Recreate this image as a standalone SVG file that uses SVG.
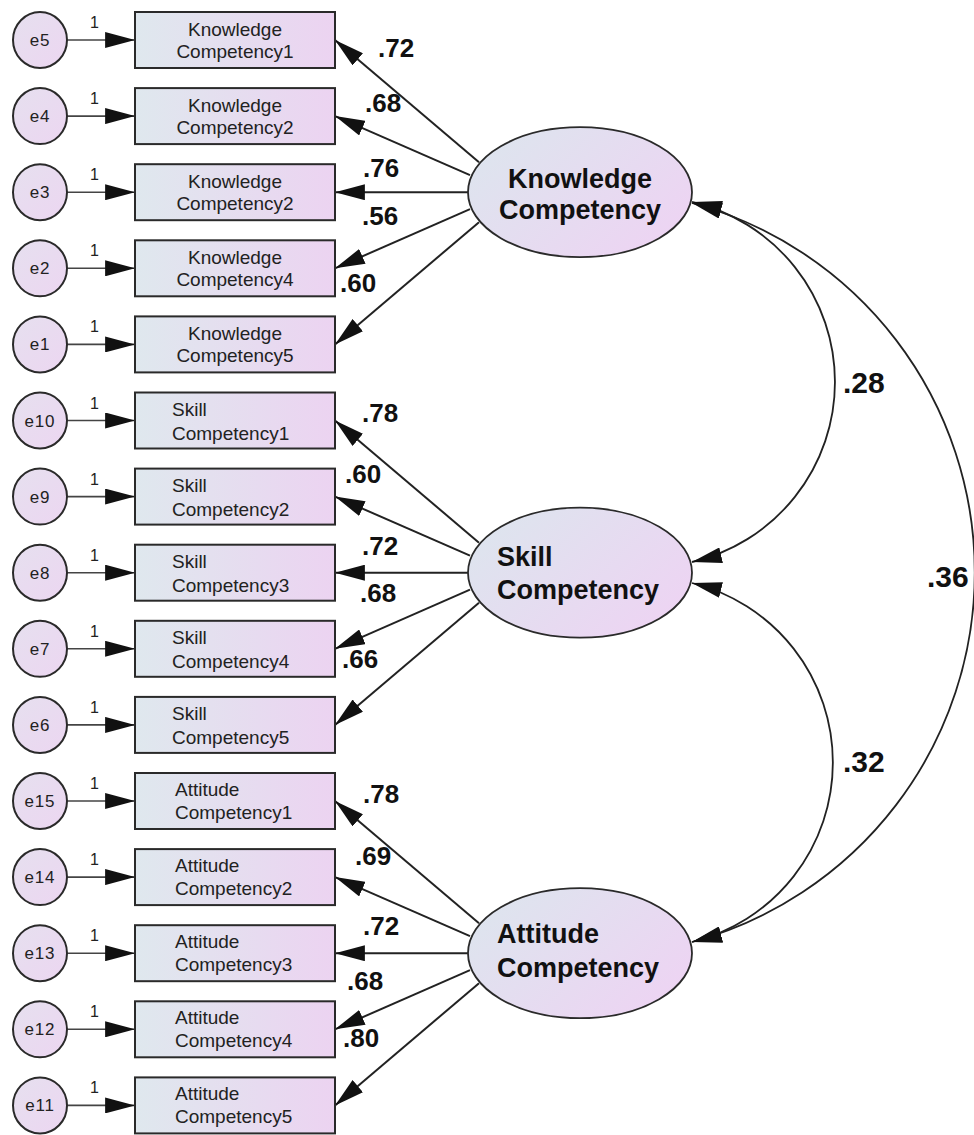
<svg xmlns="http://www.w3.org/2000/svg" width="974" height="1135" viewBox="0 0 974 1135">
<defs>
<linearGradient id="gBox" x1="0" y1="0" x2="1" y2="0"><stop offset="0" stop-color="#dfe8ee"/><stop offset="1" stop-color="#ecd3f1"/></linearGradient>
<linearGradient id="gEll" x1="0" y1="0.2" x2="1" y2="0.8"><stop offset="0" stop-color="#dde5ee"/><stop offset="1" stop-color="#eed3f3"/></linearGradient>
<linearGradient id="gErr" x1="0" y1="0" x2="1" y2="1"><stop offset="0" stop-color="#e6e0ef"/><stop offset="1" stop-color="#ecd6f1"/></linearGradient>
<marker id="ah" markerUnits="userSpaceOnUse" markerWidth="30" markerHeight="16" viewBox="0 0 28 15" refX="28" refY="7.5" orient="auto-start-reverse"><path d="M0,0 L28,7.5 L0,15 z" fill="#111"/></marker>
<style>
.box{fill:url(#gBox);stroke:#2a2a2a;stroke-width:2}
.ell{fill:url(#gEll);stroke:#2a2a2a;stroke-width:1.8}
.err{fill:url(#gErr);stroke:#2a2a2a;stroke-width:2}
.t{font-family:"Liberation Sans",Arial,sans-serif;font-size:19px;fill:#222}
.tc{text-anchor:middle}
.et{font-family:"Liberation Sans",Arial,sans-serif;font-size:17px;fill:#222;text-anchor:middle;letter-spacing:0.8px}
.one{font-family:"Liberation Sans",Arial,sans-serif;font-size:16px;fill:#222}
.lt{font-family:"Liberation Sans",Arial,sans-serif;font-size:27px;font-weight:bold;fill:#111}
.lab{font-family:"Liberation Sans",Arial,sans-serif;font-size:26px;font-weight:bold;fill:#111}
.cov{font-family:"Liberation Sans",Arial,sans-serif;font-size:30px;font-weight:bold;fill:#111}
.ln{stroke:#222;stroke-width:2;fill:none;marker-end:url(#ah)}
.eln{stroke:#444;stroke-width:1.6;fill:none;marker-end:url(#ah)}
.arc{stroke:#222;stroke-width:1.8;fill:none;marker-start:url(#ah);marker-end:url(#ah)}
</style>
</defs>

<g id="connectors">
<!-- error arrows -->
<line class="eln" x1="67" y1="40" x2="135" y2="40"/>
<line class="eln" x1="67" y1="116.1" x2="135" y2="116.1"/>
<line class="eln" x1="67" y1="192.2" x2="135" y2="192.2"/>
<line class="eln" x1="67" y1="268.3" x2="135" y2="268.3"/>
<line class="eln" x1="67" y1="344.4" x2="135" y2="344.4"/>
<line class="eln" x1="67" y1="420.5" x2="135" y2="420.5"/>
<line class="eln" x1="67" y1="496.6" x2="135" y2="496.6"/>
<line class="eln" x1="67" y1="572.7" x2="135" y2="572.7"/>
<line class="eln" x1="67" y1="648.8" x2="135" y2="648.8"/>
<line class="eln" x1="67" y1="724.9" x2="135" y2="724.9"/>
<line class="eln" x1="67" y1="801" x2="135" y2="801"/>
<line class="eln" x1="67" y1="877.1" x2="135" y2="877.1"/>
<line class="eln" x1="67" y1="953.2" x2="135" y2="953.2"/>
<line class="eln" x1="67" y1="1029.3" x2="135" y2="1029.3"/>
<line class="eln" x1="67" y1="1105.4" x2="135" y2="1105.4"/>
<g class="one">
<text x="90" y="28">1</text><text x="90" y="104.1">1</text><text x="90" y="180.2">1</text><text x="90" y="256.3">1</text><text x="90" y="332.4">1</text>
<text x="90" y="408.5">1</text><text x="90" y="484.6">1</text><text x="90" y="560.7">1</text><text x="90" y="636.8">1</text><text x="90" y="712.9">1</text>
<text x="90" y="789">1</text><text x="90" y="865.1">1</text><text x="90" y="941.2">1</text><text x="90" y="1017.3">1</text><text x="90" y="1093.4">1</text>
</g>
<!-- loadings -->
<line class="ln" x1="479" y1="162.2" x2="335" y2="40"/>
<line class="ln" x1="470" y1="175.2" x2="335" y2="116.1"/>
<line class="ln" x1="468" y1="192.2" x2="335" y2="192.2"/>
<line class="ln" x1="470" y1="209.2" x2="335" y2="268.3"/>
<line class="ln" x1="479" y1="222.2" x2="335" y2="344.4"/>
<line class="ln" x1="479" y1="542.7" x2="335" y2="420.5"/>
<line class="ln" x1="470" y1="555.7" x2="335" y2="496.6"/>
<line class="ln" x1="468" y1="572.7" x2="335" y2="572.7"/>
<line class="ln" x1="470" y1="589.7" x2="335" y2="648.8"/>
<line class="ln" x1="479" y1="602.7" x2="335" y2="724.9"/>
<line class="ln" x1="479" y1="923.2" x2="335" y2="801"/>
<line class="ln" x1="470" y1="936.2" x2="335" y2="877.1"/>
<line class="ln" x1="468" y1="953.2" x2="335" y2="953.2"/>
<line class="ln" x1="470" y1="970.2" x2="335" y2="1029.3"/>
<line class="ln" x1="479" y1="983.2" x2="335" y2="1105.4"/>
<g class="lab">
<text x="378" y="57">.72</text><text x="365" y="112">.68</text><text x="363" y="177">.76</text><text x="362" y="225">.56</text><text x="340" y="292">.60</text>
<text x="362" y="422">.78</text><text x="345" y="483">.60</text><text x="362" y="555">.72</text><text x="360" y="602">.68</text><text x="342" y="668">.66</text>
<text x="363" y="803">.78</text><text x="355" y="865">.69</text><text x="363" y="935">.72</text><text x="347" y="990">.68</text><text x="343" y="1047">.80</text>
</g>
<!-- covariances -->
<path class="arc" d="M692,202 A184.8,184.8 0 0,1 692,562"/>
<path class="arc" d="M692,583 A184.8,184.8 0 0,1 692,942"/>
<path class="arc" d="M692,203 A382.8,382.8 0 0,1 692,942"/>
<text class="cov" x="843" y="393">.28</text>
<text class="cov" x="843" y="772">.32</text>
<text class="cov" x="927" y="587">.36</text>
</g>

<g id="errors">
<g id="e5"><ellipse class="err" cx="40" cy="40" rx="27" ry="28"/><text class="et" x="40" y="46">e5</text></g>
<g id="e4"><ellipse class="err" cx="40" cy="116.1" rx="27" ry="28"/><text class="et" x="40" y="122.1">e4</text></g>
<g id="e3"><ellipse class="err" cx="40" cy="192.2" rx="27" ry="28"/><text class="et" x="40" y="198.2">e3</text></g>
<g id="e2"><ellipse class="err" cx="40" cy="268.3" rx="27" ry="28"/><text class="et" x="40" y="274.3">e2</text></g>
<g id="e1"><ellipse class="err" cx="40" cy="344.4" rx="27" ry="28"/><text class="et" x="40" y="350.4">e1</text></g>
<g id="e10"><ellipse class="err" cx="40" cy="420.5" rx="27" ry="28"/><text class="et" x="40" y="426.5">e10</text></g>
<g id="e9"><ellipse class="err" cx="40" cy="496.6" rx="27" ry="28"/><text class="et" x="40" y="502.6">e9</text></g>
<g id="e8"><ellipse class="err" cx="40" cy="572.7" rx="27" ry="28"/><text class="et" x="40" y="578.7">e8</text></g>
<g id="e7"><ellipse class="err" cx="40" cy="648.8" rx="27" ry="28"/><text class="et" x="40" y="654.8">e7</text></g>
<g id="e6"><ellipse class="err" cx="40" cy="724.9" rx="27" ry="28"/><text class="et" x="40" y="730.9">e6</text></g>
<g id="e15"><ellipse class="err" cx="40" cy="801" rx="27" ry="28"/><text class="et" x="40" y="807">e15</text></g>
<g id="e14"><ellipse class="err" cx="40" cy="877.1" rx="27" ry="28"/><text class="et" x="40" y="883.1">e14</text></g>
<g id="e13"><ellipse class="err" cx="40" cy="953.2" rx="27" ry="28"/><text class="et" x="40" y="959.2">e13</text></g>
<g id="e12"><ellipse class="err" cx="40" cy="1029.3" rx="27" ry="28"/><text class="et" x="40" y="1035.3">e12</text></g>
<g id="e11"><ellipse class="err" cx="40" cy="1105.4" rx="27" ry="28"/><text class="et" x="40" y="1111.4">e11</text></g>
</g>

<g id="indicators">
<g id="KC1"><rect class="box" x="135" y="12" width="200" height="56"/><text class="t tc" x="235" y="36">Knowledge</text><text class="t tc" x="235" y="58">Competency1</text></g>
<g id="KC2"><rect class="box" x="135" y="88.1" width="200" height="56"/><text class="t tc" x="235" y="112.1">Knowledge</text><text class="t tc" x="235" y="134.1">Competency2</text></g>
<g id="KC3"><rect class="box" x="135" y="164.2" width="200" height="56"/><text class="t tc" x="235" y="188.2">Knowledge</text><text class="t tc" x="235" y="210.2">Competency2</text></g>
<g id="KC4"><rect class="box" x="135" y="240.3" width="200" height="56"/><text class="t tc" x="235" y="264.3">Knowledge</text><text class="t tc" x="235" y="286.3">Competency4</text></g>
<g id="KC5"><rect class="box" x="135" y="316.4" width="200" height="56"/><text class="t tc" x="235" y="340.4">Knowledge</text><text class="t tc" x="235" y="362.4">Competency5</text></g>
<g id="SC1"><rect class="box" x="135" y="392.5" width="200" height="56"/><text class="t" x="172" y="415.5">Skill</text><text class="t" x="172" y="439.5">Competency1</text></g>
<g id="SC2"><rect class="box" x="135" y="468.6" width="200" height="56"/><text class="t" x="172" y="491.6">Skill</text><text class="t" x="172" y="515.6">Competency2</text></g>
<g id="SC3"><rect class="box" x="135" y="544.7" width="200" height="56"/><text class="t" x="172" y="567.7">Skill</text><text class="t" x="172" y="591.7">Competency3</text></g>
<g id="SC4"><rect class="box" x="135" y="620.8" width="200" height="56"/><text class="t" x="172" y="643.8">Skill</text><text class="t" x="172" y="667.8">Competency4</text></g>
<g id="SC5"><rect class="box" x="135" y="696.9" width="200" height="56"/><text class="t" x="172" y="719.9">Skill</text><text class="t" x="172" y="743.9">Competency5</text></g>
<g id="AC1"><rect class="box" x="135" y="773" width="200" height="56"/><text class="t" x="175" y="796">Attitude</text><text class="t" x="175" y="819">Competency1</text></g>
<g id="AC2"><rect class="box" x="135" y="849.1" width="200" height="56"/><text class="t" x="175" y="872.1">Attitude</text><text class="t" x="175" y="895.1">Competency2</text></g>
<g id="AC3"><rect class="box" x="135" y="925.2" width="200" height="56"/><text class="t" x="175" y="948.2">Attitude</text><text class="t" x="175" y="971.2">Competency3</text></g>
<g id="AC4"><rect class="box" x="135" y="1001.3" width="200" height="56"/><text class="t" x="175" y="1024.3">Attitude</text><text class="t" x="175" y="1047.3">Competency4</text></g>
<g id="AC5"><rect class="box" x="135" y="1077.4" width="200" height="56"/><text class="t" x="175" y="1100.4">Attitude</text><text class="t" x="175" y="1123.4">Competency5</text></g>
</g>

<g id="Knowledge"><ellipse class="ell" cx="580" cy="192.2" rx="112" ry="65"/><text class="lt" x="580" y="188" text-anchor="middle">Knowledge</text><text class="lt" x="580" y="219" text-anchor="middle">Competency</text></g>
<g id="Skill"><ellipse class="ell" cx="580" cy="572.7" rx="112" ry="65"/><text class="lt" x="497" y="566">Skill</text><text class="lt" x="497" y="599">Competency</text></g>
<g id="Attitude"><ellipse class="ell" cx="580" cy="953.2" rx="112" ry="65"/><text class="lt" x="497" y="943">Attitude</text><text class="lt" x="497" y="977">Competency</text></g>
</svg>
